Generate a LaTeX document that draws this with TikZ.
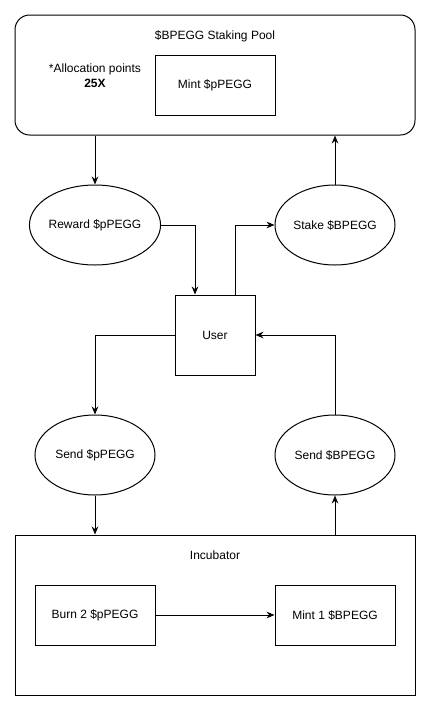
\documentclass[tikz,border=0pt]{standalone}
\usepackage{fontspec}
\setmainfont{Liberation Sans}
\usetikzlibrary{shapes.geometric,arrows.meta}

\tikzset{
  every node/.style={font=\fontsize{9}{11}\selectfont},
  box/.style={draw, rectangle, inner sep=0pt, minimum width=90pt, minimum height=45pt},
  oval/.style={draw, ellipse, inner sep=0pt, minimum width=90pt, minimum height=60pt},
  flow/.style={-{Stealth[length=6pt,width=5pt]}}
}

\begin{document}
\begin{tikzpicture}[x=0.75pt, y=-0.75pt, line width=0.75pt]
  \useasboundingbox (0,0) rectangle (431,711);

  % Staking pool
  \node[draw, rectangle, rounded corners=11pt, minimum width=300pt, minimum height=90pt] (pool) at (215,75) {};
  \node (pooltitle) at (215,36) {\$BPEGG Staking Pool};
  \node[align=center] (alloc) at (95,76) {*Allocation points\\\textbf{25X}};
  \node[box] (mintp) at (215,85) {Mint \$pPEGG};

  % Flow round the user
  \node[oval] (reward) at (95,225) {Reward \$pPEGG};
  \node[oval] (stake) at (335,225) {Stake \$BPEGG};
  \node[box, minimum width=60pt, minimum height=60pt] (user) at (215,335) {User};
  \node[oval] (sendp) at (95,455) {Send \$pPEGG};
  \node[oval] (sendb) at (335,455) {Send \$BPEGG};

  % Incubator
  \node[draw, rectangle, minimum width=300pt, minimum height=120pt] (incub) at (215,615) {};
  \node (incubtitle) at (215,555) {Incubator};
  \node[box] (burn) at (95,615) {Burn 2 \$pPEGG};
  \node[box] (mint1) at (335,615) {Mint 1 \$BPEGG};

  % Arrows
  \draw[flow] (reward.north |- pool.south) -- (reward.north);
  \draw[flow] (stake.north) -- (stake.north |- pool.south);
  \draw[flow] (reward.east) -| ([xshift=-15pt]user.north);
  \draw[flow] ([xshift=15pt]user.north) |- (stake.west);
  \draw[flow] (user.west) -| (sendp.north);
  \draw[flow] (sendp.south) -- (sendp.south |- incub.north);
  \draw[flow] (sendb.south |- incub.north) -- (sendb.south);
  \draw[flow] (sendb.north) |- (user.east);
  \draw[flow] (burn) -- (mint1);
\end{tikzpicture}
\end{document}
